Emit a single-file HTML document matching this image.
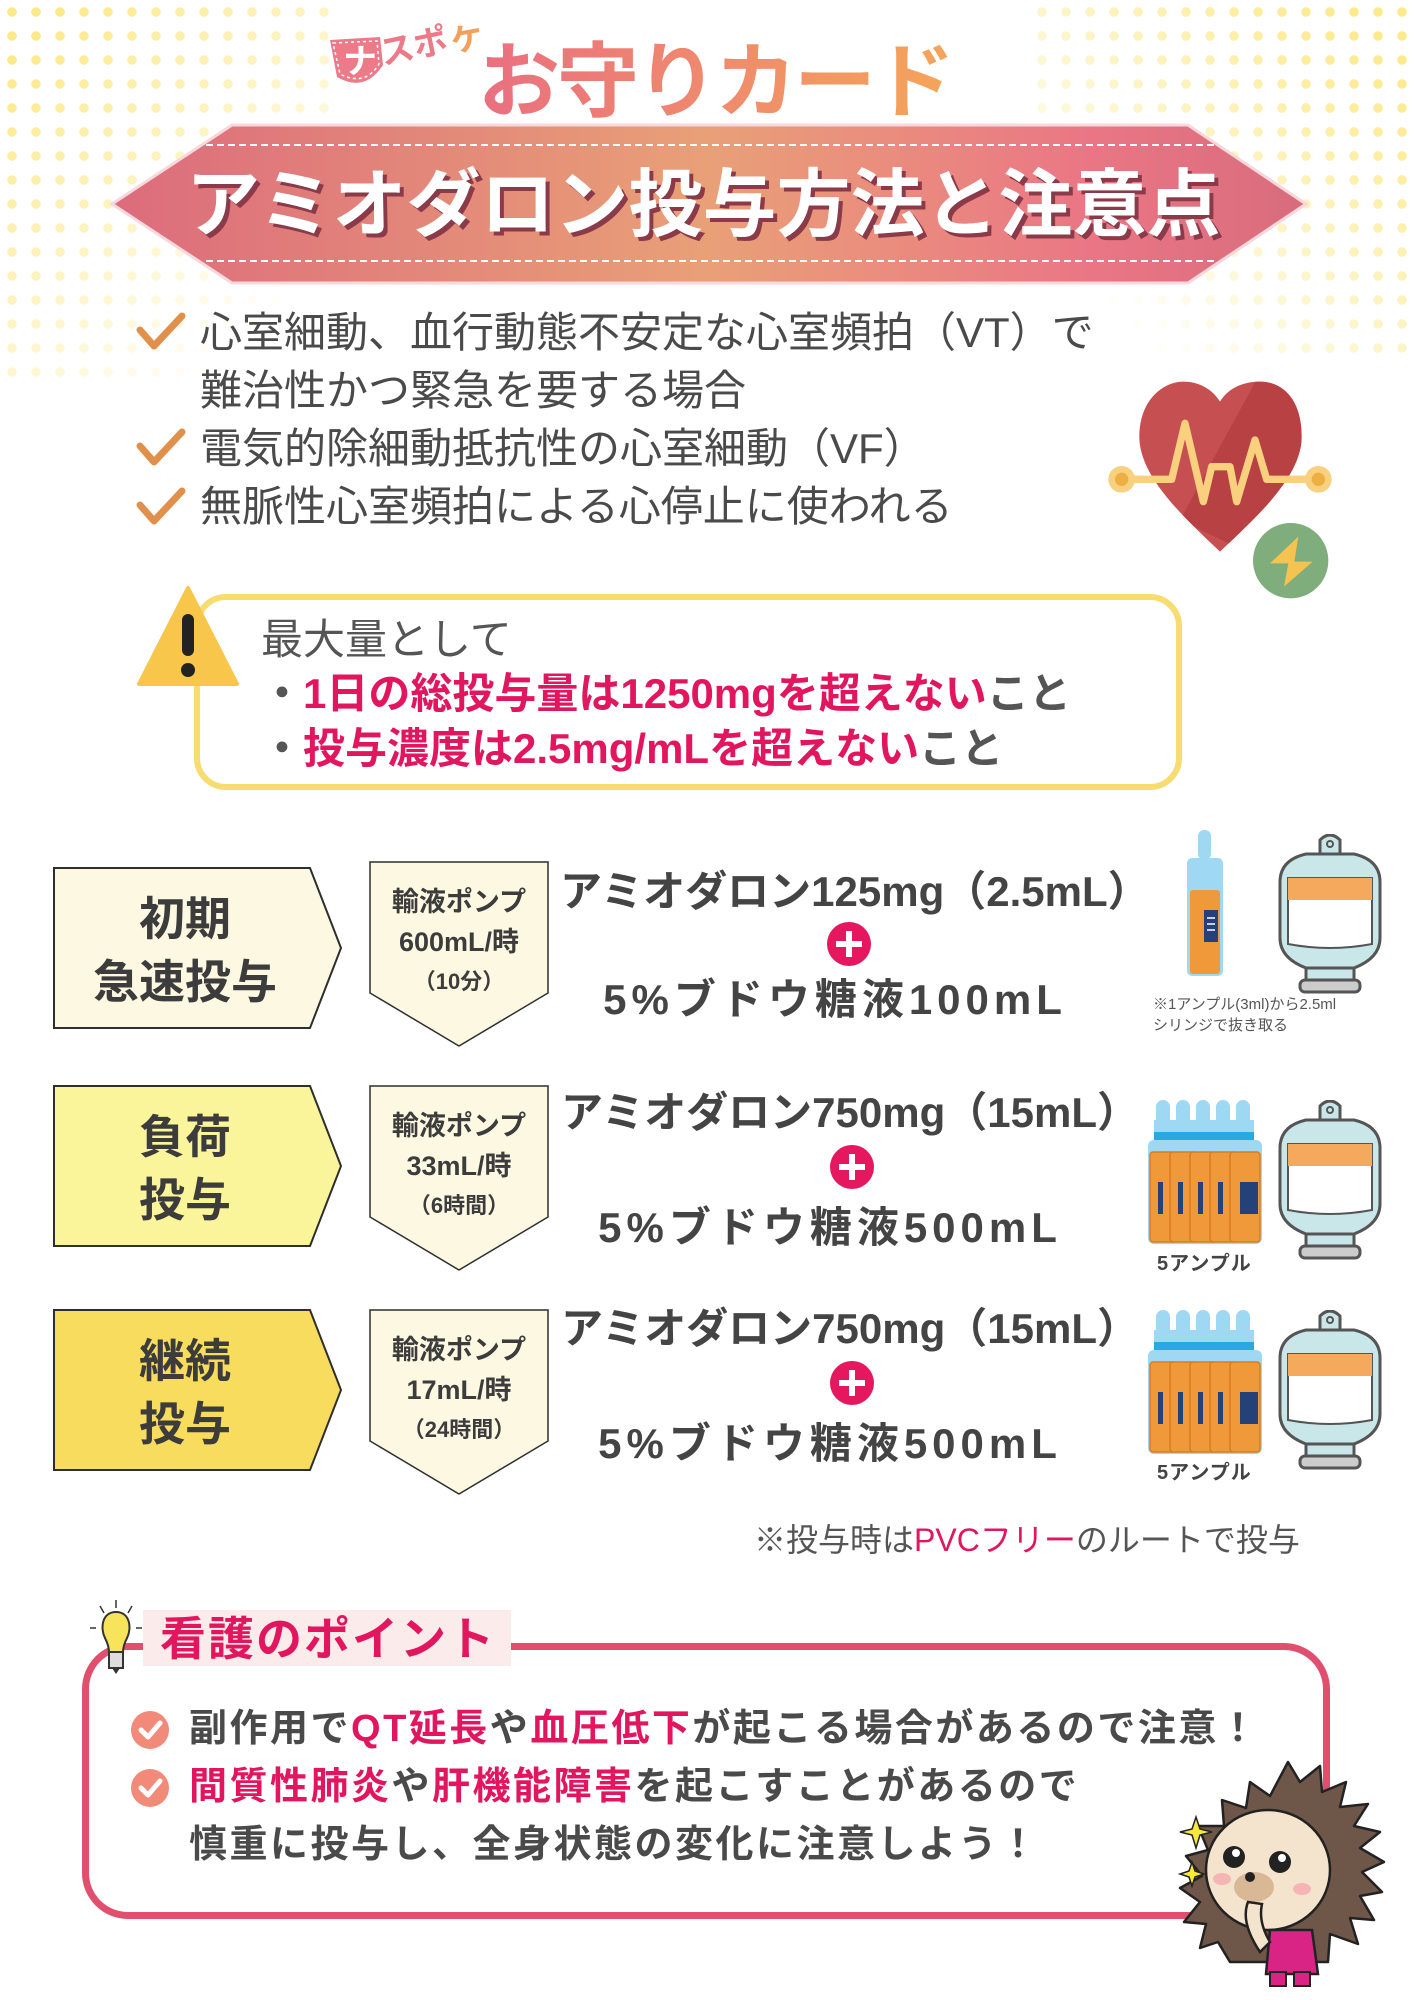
<!DOCTYPE html>
<html><head><meta charset="utf-8"><style>
*{margin:0;padding:0;box-sizing:border-box}
body{width:1414px;height:2000px;position:relative;background:#fff;overflow:hidden;font-family:"Liberation Sans","Noto Sans CJK JP",sans-serif;color:#4a4a4a}
.a{position:absolute;white-space:nowrap}
.dots{position:absolute;background-image:radial-gradient(circle,#fbe98a 4.5px,transparent 5px);background-size:24px 24px}
.b{font-weight:700}
.pk{color:#e2165e}
.lbl{position:absolute;left:53px;width:288px;height:162px}
.lbl div{position:absolute;left:0;width:264px;text-align:center;font-size:46px;font-weight:700;color:#3c3c3c;line-height:63px}
.pump{position:absolute;left:369px;width:180px;height:185px}
.pump div{position:absolute;left:0;width:180px;text-align:center;color:#3c3c3c;font-weight:700}
.main{position:absolute;left:560px;width:580px;text-align:center;font-weight:700;color:#444}
.plus{position:absolute;width:44px;height:44px;border-radius:50%;background:#e5175f}
.plus:before{content:"";position:absolute;left:9px;top:19px;width:26px;height:6px;background:#fff}
.plus:after{content:"";position:absolute;left:19px;top:9px;width:6px;height:26px;background:#fff}
</style></head><body>

<div class="dots" style="left:0;top:0;width:330px;height:380px;-webkit-mask-image:linear-gradient(135deg,#000 10%,transparent 85%);mask-image:linear-gradient(135deg,#000 10%,transparent 85%)"></div>
<div class="dots" style="left:1030px;top:0;width:384px;height:360px;-webkit-mask-image:linear-gradient(225deg,#000 10%,transparent 85%);mask-image:linear-gradient(225deg,#000 10%,transparent 85%)"></div>

<svg class="a" style="left:325px;top:15px" width="190" height="75" viewBox="0 0 190 75">
<path d="M5 25 L55 22 L58 50 Q40 78 12 62 Z" fill="#ec7a88"/>
<path d="M8 28 L52 26 L54 49 Q40 72 15 59 Z" fill="none" stroke="#fff" stroke-dasharray="3 3" stroke-width="1.5"/>
<text x="18" y="58" font-size="34" font-weight="700" fill="#fff" font-family="Noto Sans CJK JP">ナ</text>
<text x="58" y="50" font-size="34" font-weight="700" fill="#ec7a88" font-family="Noto Sans CJK JP" transform="rotate(-12 58 50)">スポ</text>
<text x="128" y="38" font-size="32" font-weight="700" fill="#f2a05c" font-family="Noto Sans CJK JP" transform="rotate(-10 128 38)">ケ</text>
</svg>

<div class="a b" style="left:478px;top:28px;font-size:82px;line-height:110px;letter-spacing:-3px;background:linear-gradient(90deg,#ea6f80,#f4a55a);-webkit-background-clip:text;background-clip:text;color:transparent">お守りカード</div>

<svg class="a" style="left:108px;top:122px" width="1202" height="166" viewBox="0 0 1202 166">
<defs><linearGradient id="bg" x1="0" x2="1"><stop offset="0" stop-color="#dc6c7c"/><stop offset=".5" stop-color="#e9a077"/><stop offset=".82" stop-color="#ea7685"/><stop offset="1" stop-color="#d86c7c"/></linearGradient></defs>
<polygon points="4,82 124,3 1080,3 1198,82 1080,161 124,161" fill="url(#bg)" stroke="#f7d8dc" stroke-width="3"/>
<line x1="98" y1="23" x2="1106" y2="23" stroke="#fff" stroke-width="2" stroke-dasharray="7 4"/>
<line x1="98" y1="139" x2="1106" y2="139" stroke="#fff" stroke-width="2" stroke-dasharray="7 4"/>
</svg>
<div class="a b" style="left:186px;top:158px;font-size:74px;line-height:94px;color:#fff;text-shadow:4px 4px 0 #8a3a48">アミオダロン投与方法と注意点</div>

<svg class="a" style="left:136px;top:308px" width="54" height="220" viewBox="0 0 54 220">
<g fill="none" stroke="#e0904a" stroke-width="7" stroke-linecap="round" stroke-linejoin="round">
<path d="M4 22 L18 38 L46 8"/><path d="M4 138 L18 154 L46 124"/><path d="M4 197 L18 213 L46 183"/></g></svg>
<div class="a" style="left:200px;top:304px;font-size:42px;line-height:58px;color:#4a4a4a">心室細動、血行動態不安定な心室頻拍（VT）で<br>難治性かつ緊急を要する場合<br>電気的除細動抵抗性の心室細動（VF）<br>無脈性心室頻拍による心停止に使われる</div>

<!-- heart -->
<svg class="a" style="left:1100px;top:360px" width="300" height="260" viewBox="0 0 900 780">
<defs><clipPath id="hc"><path id="hp" d="M360 575 C250 470 118 350 118 230 C118 120 190 65 250 65 C310 65 345 100 360 125 C375 100 410 65 480 65 C550 65 605 120 605 230 C605 350 470 470 360 575 Z"/></clipPath></defs>
<path d="M360 575 C250 470 118 350 118 230 C118 120 190 65 250 65 C310 65 345 100 360 125 C375 100 410 65 480 65 C550 65 605 120 605 230 C605 350 470 470 360 575 Z" fill="#c64f51"/>
<polygon points="480,40 700,40 700,700 240,480" fill="#b84143" clip-path="url(#hc)"/>
<polyline points="65,358 215,358 255,190 310,425 335,320 390,320 410,425 465,240 500,358 655,358" fill="none" stroke="#f8d07e" stroke-width="22" stroke-linejoin="round" stroke-linecap="round"/>
<circle cx="65" cy="358" r="40" fill="#f8d07e"/><circle cx="65" cy="358" r="20" fill="#edae42"/>
<circle cx="655" cy="358" r="40" fill="#f8d07e"/><circle cx="655" cy="358" r="20" fill="#edae42"/>
<circle cx="572" cy="602" r="113" fill="#7fae7c"/>
<polygon points="595,530 510,610 565,610 552,680 638,605 583,605" fill="#f5c350"/>
</svg>

<div class="a" style="left:194px;top:594px;width:988px;height:196px;border:6px solid #f8dc70;border-radius:32px;background:#fff"></div>
<svg class="a" style="left:136px;top:584px" width="104" height="104" viewBox="0 0 104 104">
<polygon points="52,4 101,100 3,100" fill="#f8c64a" stroke="#f8c64a" stroke-width="4" stroke-linejoin="round"/>
<rect x="46" y="30" width="12" height="42" rx="6" fill="#222"/><circle cx="52" cy="86" r="7" fill="#222"/></svg>
<div class="a" style="left:261px;top:612px;font-size:42px;line-height:56px;color:#555">最大量として</div>
<div class="a b" style="left:261px;top:666px;font-size:42px;line-height:56px;color:#555">・<span class="pk">1日の総投与量は1250mgを超えない</span>こと</div>
<div class="a b" style="left:261px;top:721px;font-size:42px;line-height:56px;color:#555">・<span class="pk">投与濃度は2.5mg/mLを超えない</span>こと</div>

<svg class="a" style="left:0;top:850px" width="560" height="660" viewBox="0 850 560 660">
<g stroke="#2e2e2e" stroke-width="2">
<polygon points="54,868 310,868 341,948 310,1028 54,1028" fill="#fcf8e2"/>
<polygon points="54,1086 310,1086 341,1166 310,1246 54,1246" fill="#faf59b"/>
<polygon points="54,1310 310,1310 341,1390 310,1470 54,1470" fill="#f8dc5e"/>
<polygon points="370,862 548,862 548,993 459,1046 370,993" fill="#fcf8e2" stroke-width="1.5"/>
<polygon points="370,1086 548,1086 548,1217 459,1270 370,1217" fill="#fcf8e2" stroke-width="1.5"/>
<polygon points="370,1310 548,1310 548,1441 459,1494 370,1441" fill="#fcf8e2" stroke-width="1.5"/>
</g></svg>

<div class="lbl" style="top:866px"><div style="top:22px">初期</div><div style="top:85px">急速投与</div></div>
<div class="lbl" style="top:1084px"><div style="top:22px">負荷</div><div style="top:85px">投与</div></div>
<div class="lbl" style="top:1308px"><div style="top:22px">継続</div><div style="top:85px">投与</div></div>

<div class="pump" style="top:862px"><div style="top:18px;font-size:27px">輸液ポンプ</div><div style="top:58px;font-size:27px">600mL/時</div><div style="top:102px;font-size:22px">（10分）</div></div>
<div class="pump" style="top:1086px"><div style="top:18px;font-size:27px">輸液ポンプ</div><div style="top:58px;font-size:27px">33mL/時</div><div style="top:102px;font-size:22px">（6時間）</div></div>
<div class="pump" style="top:1310px"><div style="top:18px;font-size:27px">輸液ポンプ</div><div style="top:58px;font-size:27px">17mL/時</div><div style="top:102px;font-size:22px">（24時間）</div></div>

<div class="main" style="top:864px;font-size:42px;line-height:56px">アミオダロン125mg（2.5mL）</div>
<div class="plus" style="left:827px;top:922px"></div>
<div class="main" style="left:545px;top:972px;font-size:42px;line-height:56px;letter-spacing:5px">5%ブドウ糖液100mL</div>

<div class="main" style="top:1085px;font-size:42px;line-height:56px">アミオダロン750mg（15mL）</div>
<div class="plus" style="left:830px;top:1145px"></div>
<div class="main" style="left:540px;top:1200px;font-size:42px;line-height:56px;letter-spacing:5px">5%ブドウ糖液500mL</div>

<div class="main" style="top:1301px;font-size:42px;line-height:56px">アミオダロン750mg（15mL）</div>
<div class="plus" style="left:830px;top:1361px"></div>
<div class="main" style="left:540px;top:1416px;font-size:42px;line-height:56px;letter-spacing:5px">5%ブドウ糖液500mL</div>

<svg class="a" style="left:1182px;top:830px" width="46" height="148" viewBox="0 0 46 148">
<rect x="16" y="0" width="13" height="30" rx="6" fill="#9fd8f2"/>
<rect x="5" y="28" width="36" height="118" rx="5" fill="#9fd8f2"/>
<rect x="8" y="60" width="30" height="84" rx="3" fill="#f0993a"/>
<rect x="22" y="80" width="14" height="32" fill="#24417a"/>
<g stroke="#fff" stroke-width="1.5"><line x1="25" y1="88" x2="33" y2="88"/><line x1="25" y1="94" x2="33" y2="94"/><line x1="25" y1="100" x2="33" y2="100"/></g>
</svg>
<svg id="bag" class="a" style="left:1276px;top:834px" width="108" height="162" viewBox="0 0 108 162">
<path d="M44 6 Q54 -4 64 6 L64 20 L44 20 Z" fill="#c9e7e8" stroke="#555" stroke-width="3"/>
<circle cx="54" cy="10" r="3" fill="none" stroke="#555" stroke-width="2"/>
<path d="M30 20 L78 20 Q104 26 104 48 L104 104 Q104 124 78 134 L30 134 Q4 124 4 104 L4 48 Q4 26 30 20 Z" fill="#c9e7e8" stroke="#555" stroke-width="3"/>
<path d="M12 44 L96 44 L96 110 Q54 118 12 110 Z" fill="#fff" stroke="#555" stroke-width="2"/>
<rect x="12" y="44" width="84" height="22" fill="#f5a95c"/>
<rect x="30" y="134" width="48" height="14" fill="#c9e7e8" stroke="#555" stroke-width="3"/>
<rect x="24" y="146" width="60" height="12" rx="5" fill="#ccc" stroke="#555" stroke-width="3"/>
</svg>
<div class="a" style="left:1153px;top:994px;font-size:15px;line-height:21px;color:#555">※1アンプル(3ml)から2.5ml<br>シリンジで抜き取る</div>

<svg class="a" style="left:1146px;top:1100px" width="118" height="146" viewBox="0 0 118 146">
<g id="amps">
<g fill="#9fd8f2"><rect x="10" y="0" width="14" height="30" rx="7"/><rect x="30" y="0" width="14" height="30" rx="7"/><rect x="50" y="0" width="14" height="30" rx="7"/><rect x="70" y="0" width="14" height="30" rx="7"/><rect x="90" y="0" width="14" height="30" rx="7"/></g>
<rect x="8" y="20" width="100" height="20" fill="#9fd8f2"/>
<rect x="8" y="32" width="100" height="8" fill="#29a9e0"/>
<rect x="2" y="40" width="114" height="104" rx="6" fill="#9fd8f2"/>
<g fill="#f0993a" stroke="#d77d20" stroke-width="1.5"><rect x="4" y="52" width="26" height="90" rx="3"/><rect x="24" y="52" width="26" height="90" rx="3"/><rect x="44" y="52" width="26" height="90" rx="3"/><rect x="64" y="52" width="26" height="90" rx="3"/><rect x="84" y="52" width="30" height="90" rx="3"/></g>
<g fill="#24417a"><rect x="12" y="82" width="5" height="32"/><rect x="32" y="82" width="5" height="32"/><rect x="52" y="82" width="5" height="32"/><rect x="72" y="82" width="5" height="32"/><rect x="94" y="82" width="18" height="32"/></g></g>
</svg>
<svg class="a" style="left:1276px;top:1100px" width="108" height="162" viewBox="0 0 108 162"><use href="#bag"/></svg>
<div class="a b" style="left:1157px;top:1247px;font-size:20px;color:#444;letter-spacing:1px">5アンプル</div>

<svg class="a" style="left:1146px;top:1310px" width="118" height="146" viewBox="0 0 118 146"><use href="#amps"/></svg>
<svg class="a" style="left:1276px;top:1310px" width="108" height="162" viewBox="0 0 108 162"><use href="#bag"/></svg>
<div class="a b" style="left:1157px;top:1456px;font-size:20px;color:#444;letter-spacing:1px">5アンプル</div>

<div class="a" style="left:754px;top:1518px;font-size:32px;line-height:44px;color:#555">※投与時は<span style="color:#e2165e">PVCフリー</span>のルートで投与</div>

<div class="a" style="left:82px;top:1643px;width:1248px;height:276px;border:7px solid #e0506e;border-radius:46px"></div>
<div class="a" style="left:143px;top:1610px;width:368px;height:56px;background:#fbeceb"></div>
<div class="a b" style="left:160px;top:1612px;font-size:46px;line-height:54px;color:#e2165e;letter-spacing:2px">看護のポイント</div>
<svg class="a" style="left:86px;top:1598px" width="60" height="78" viewBox="0 0 60 78">
<g stroke="#333" stroke-width="1.5"><line x1="30" y1="2" x2="30" y2="10"/><line x1="14" y1="8" x2="18" y2="15"/><line x1="46" y1="8" x2="42" y2="15"/><line x1="4" y1="30" x2="10" y2="30"/><line x1="50" y1="30" x2="56" y2="30"/></g>
<path d="M30 14 C16 14 14 30 19 40 C22 46 23 50 23 54 L37 54 C37 50 38 46 41 40 C46 30 44 14 30 14 Z" fill="#f8e45a" stroke="#333" stroke-width="2"/>
<rect x="23" y="54" width="14" height="16" fill="#ddd" stroke="#333" stroke-width="2"/><path d="M26 70 L30 76 L34 70" fill="#333"/>
</svg>
<svg class="a" style="left:128px;top:1708px" width="46" height="110" viewBox="0 0 46 110">
<circle cx="22" cy="22" r="19" fill="#f28a7a"/><path d="M13 22 L20 29 L32 15" fill="none" stroke="#fff" stroke-width="5" stroke-linecap="round" stroke-linejoin="round"/>
<circle cx="22" cy="80" r="19" fill="#f28a7a"/><path d="M13 80 L20 87 L32 73" fill="none" stroke="#fff" stroke-width="5" stroke-linecap="round" stroke-linejoin="round"/>
</svg>
<div class="a b" style="left:189px;top:1700px;font-size:38px;line-height:58px;color:#4a4a4a;letter-spacing:2.5px">副作用で<span class="pk">QT延長</span>や<span class="pk">血圧低下</span>が起こる場合があるので注意！<br><span class="pk">間質性肺炎</span>や<span class="pk">肝機能障害</span>を起こすことがあるので<br>慎重に投与し、全身状態の変化に注意しよう！</div>

<svg class="a" style="left:1170px;top:1752px" width="230" height="240" viewBox="0 0 230 240">
<path d="M118 10 L130 30 L150 14 L152 40 L176 30 L170 55 L198 52 L184 74 L210 80 L190 96 L214 110 L192 120 L212 140 L190 144 L204 168 L180 166 L188 192 L160 182 L158 210 L60 210 L48 190 L30 196 L36 172 L14 170 L30 150 L10 136 L32 124 L16 104 L38 98 L28 74 L54 74 L52 48 L76 56 L80 30 L100 44 Z" fill="#6e5648" stroke="#222" stroke-width="2.5" stroke-linejoin="round"/>
<ellipse cx="98" cy="118" rx="62" ry="60" fill="#f5e4cd" stroke="#222" stroke-width="2.5"/>
<ellipse cx="84" cy="135" rx="20" ry="15" fill="#d9b896"/>
<circle cx="64" cy="105" r="11" fill="#222"/><circle cx="66" cy="101" r="4" fill="#fff"/>
<circle cx="110" cy="110" r="11" fill="#222"/><circle cx="112" cy="106" r="4" fill="#fff"/>
<circle cx="80" cy="125" r="5" fill="#222"/>
<ellipse cx="52" cy="127" rx="9" ry="6" fill="#f5b5b5"/><ellipse cx="132" cy="137" rx="9" ry="6" fill="#f5b5b5"/>
<path d="M100 178 L142 178 L148 222 L96 222 Z" fill="#d92485" stroke="#222" stroke-width="2.5"/>
<rect x="100" y="220" width="16" height="14" fill="#d92485" stroke="#222" stroke-width="2"/><rect x="124" y="220" width="16" height="14" fill="#d92485" stroke="#222" stroke-width="2"/>
<path d="M78 150 Q70 170 90 200 L100 190 Q88 170 92 152 Z" fill="#f5e4cd" stroke="#222" stroke-width="2.5"/>
<path d="M26 65 L30 77 L42 80 L30 83 L26 96 L22 83 L10 80 L22 77 Z" fill="#f8e83a" stroke="#222" stroke-width="1.5"/>
<path d="M22 110 L25 119 L34 122 L25 125 L22 134 L19 125 L10 122 L19 119 Z" fill="#f8e83a" stroke="#222" stroke-width="1.5"/>
</svg>

</body></html>
